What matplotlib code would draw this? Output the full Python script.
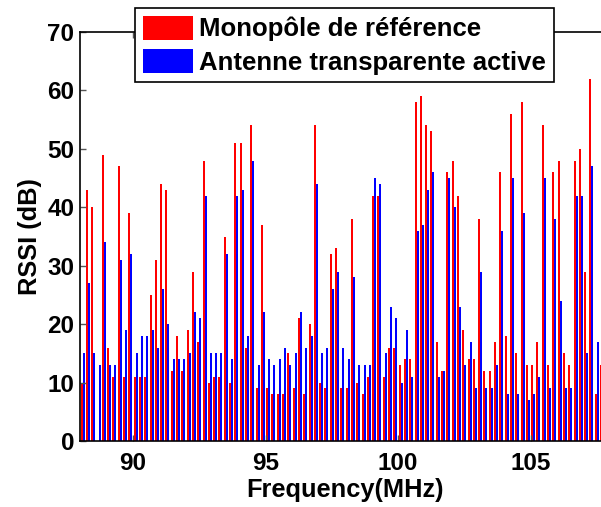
import numpy as np
import matplotlib
matplotlib.use("Agg")
import matplotlib.pyplot as plt

# FM channels 88.1 ... 107.7 MHz (0.2 MHz spacing)
freqs = np.round(88.1 + 0.2 * np.arange(99), 1)

# RSSI (dB), reference monopole
rssi_mono = [10, 43, 40, 0, 49, 16, 11, 47, 11, 39,
             11, 11, 11, 25, 31, 44, 43, 12, 18, 12,
             19, 29, 17, 48, 10, 11, 11, 35, 10, 51,
             51, 16, 54, 9, 37, 9, 8, 8, 8, 15,
             9, 21, 8, 20, 54, 10, 9, 32, 33, 9,
             9, 38, 10, 8, 11, 42, 42, 11, 16, 16,
             13, 14, 14, 58, 59, 54, 53, 17, 12, 46,
             48, 42, 19, 14, 14, 38, 12, 12, 17, 46,
             18, 56, 15, 58, 13, 13, 17, 54, 13, 46,
             48, 15, 13, 48, 50, 29, 62, 8, 13]

# RSSI (dB), active transparent antenna
rssi_active = [15, 27, 15, 13, 34, 13, 13, 31, 19, 32,
               15, 18, 18, 19, 16, 26, 20, 14, 14, 14,
               15, 22, 21, 42, 15, 15, 15, 32, 14, 42,
               43, 18, 48, 13, 22, 14, 13, 14, 16, 13,
               15, 22, 16, 18, 44, 15, 16, 26, 29, 16,
               14, 28, 13, 13, 13, 45, 44, 15, 23, 21,
               10, 19, 11, 36, 37, 43, 46, 11, 12, 45,
               40, 23, 13, 17, 9, 29, 9, 9, 13, 36,
               8, 45, 8, 39, 7, 8, 11, 45, 9, 38,
               24, 9, 9, 42, 42, 15, 47, 17, 9]

plt.rcParams['font.family'] = ['Liberation Sans', 'DejaVu Sans']
plt.rcParams['font.weight'] = 'bold'

fig = plt.figure(figsize=(6.01, 5.07), dpi=100)
ax = fig.add_axes([80 / 601, 66 / 507, 530 / 601, 409 / 507])

# 20 MHz over 530 px -> 2 px per bar
w = 0.0755
ax.bar(freqs - w / 2, rssi_mono, width=w, color='#ff0000', linewidth=0,
       antialiased=False, label='Monopôle de référence')
ax.bar(freqs + w / 2, rssi_active, width=w, color='#0000ff', linewidth=0,
       antialiased=False, label='Antenne transparente active')

ax.set_xlim(88, 108)
ax.set_ylim(0, 70)
ax.set_xticks([90, 95, 100, 105])
ax.set_yticks(range(0, 71, 10))
ax.tick_params(direction='in', length=4, width=1, color='#555555',
               top=True, right=True, labelsize=17.5)
ax.tick_params(axis='x', pad=8)
ax.tick_params(axis='y', pad=4)
for lab in ax.get_xticklabels() + ax.get_yticklabels():
    lab.set_fontweight('bold')
for sp in ax.spines.values():
    sp.set_linewidth(1.2)

ax.set_xlabel('Frequency(MHz)', fontsize=18.3, fontweight='bold', labelpad=2)
ax.set_ylabel('RSSI (dB)', fontsize=18.3, fontweight='bold', labelpad=4)

leg = ax.legend(loc='upper left', bbox_to_anchor=(55 / 530, 433 / 409),
                prop={'weight': 'bold', 'size': 18.5}, frameon=True, fancybox=False,
                edgecolor='black', framealpha=1, borderpad=0.3,
                borderaxespad=0, handlelength=1.95, handleheight=1.05,
                handletextpad=0.25, labelspacing=0.3)
leg.get_frame().set_linewidth(1.2)

fig.savefig('out.png', dpi=100)
